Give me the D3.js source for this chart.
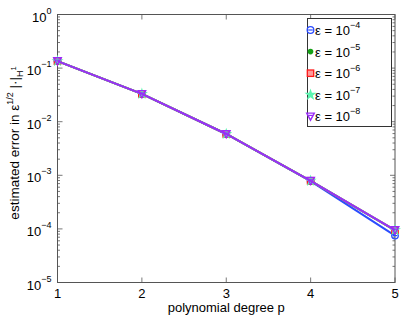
<!DOCTYPE html>
<html>
<head>
<meta charset="utf-8">
<script src="https://cdn.jsdelivr.net/npm/d3@7"></script>
<style>
  body { margin: 0; background: #fff; }
  text { font-family: "Liberation Sans", Arial, sans-serif; fill: #000; }
</style>
</head>
<body>
<div id="chart"></div>
<script>
// polynomial degrees on the x axis
var degrees = [1, 2, 3, 4, 5];
var yDecades = [0, -1, -2, -3, -4, -5];

// estimated errors, one array per epsilon
var err_e4 = [0.135, 0.0330, 0.0059, 0.00078, 0.000075];
var err_e5 = [0.135, 0.0330, 0.0059, 0.00079, 0.000094];
var err_e6 = [0.135, 0.0330, 0.0059, 0.00079, 0.000095];
var err_e7 = [0.135, 0.0330, 0.0059, 0.00079, 0.000095];
var err_e8 = [0.135, 0.0330, 0.0059, 0.00079, 0.000095];

var seriesNames = ["-4", "-5", "-6", "-7", "-8"];
var seriesColors = ["#2b4cff", "#16a016", "#ff1a1a", "#5cf5b0", "#9a2cf8"];
var seriesMarkers = ["circle", "dot", "square", "star", "triangle"];
var seriesData = [err_e4, err_e5, err_e6, err_e7, err_e8];

var W = 405, H = 316;
var margin = {top: 14.5, right: 10, bottom: 33.5, left: 57.5};
var width = W - margin.left - margin.right,
    height = H - margin.top - margin.bottom;

var svg = d3.select("#chart").append("svg")
    .attr("width", W).attr("height", H);
var g = svg.append("g")
    .attr("transform", "translate(" + margin.left + "," + margin.top + ")");

var x = d3.scaleLinear().domain([1, 5]).range([0, width]);
var y = d3.scaleLog().domain([1e-5, 1]).range([height, 0]);

// minor log ticks
var minor = [];
for (var e = -5; e < 0; e++) {
  for (var m = 2; m <= 9; m++) minor.push(m * Math.pow(10, e));
}

// box
g.append("rect")
  .attr("width", width).attr("height", height)
  .attr("fill", "none").attr("stroke", "#555").attr("stroke-width", 1);

// ticks on left and right
var tickG = g.append("g").attr("stroke", "#555").attr("stroke-width", 0.8);
yDecades.forEach(function(d) {
  var yy = y(Math.pow(10, d));
  tickG.append("line").attr("x1", 0).attr("x2", 5).attr("y1", yy).attr("y2", yy);
  tickG.append("line").attr("x1", width).attr("x2", width - 5).attr("y1", yy).attr("y2", yy);
});
minor.forEach(function(v) {
  var yy = y(v);
  tickG.append("line").attr("x1", 0).attr("x2", 2.5).attr("y1", yy).attr("y2", yy);
  tickG.append("line").attr("x1", width).attr("x2", width - 2.5).attr("y1", yy).attr("y2", yy);
});
degrees.forEach(function(d) {
  var xx = x(d);
  tickG.append("line").attr("x1", xx).attr("x2", xx).attr("y1", height).attr("y2", height - 5);
  tickG.append("line").attr("x1", xx).attr("x2", xx).attr("y1", 0).attr("y2", 5);
});

// y tick labels 10^k
yDecades.forEach(function(d) {
  var t = g.append("text")
    .attr("x", -6).attr("y", y(Math.pow(10, d)) + 7)
    .attr("text-anchor", "end")
    .style("font-size", "13px");
  t.append("tspan").text("10");
  t.append("tspan").attr("dy", -8).style("font-size", "9px").text(d === 0 ? "0" : "\u2212" + (-d));
});

// x tick labels
degrees.forEach(function(d) {
  g.append("text")
    .attr("x", x(d)).attr("y", height + 15)
    .attr("text-anchor", "middle")
    .style("font-size", "13px")
    .text(d);
});

// axis titles
g.append("text")
  .attr("x", width / 2).attr("y", height + 29)
  .attr("text-anchor", "middle")
  .style("font-size", "13px")
  .text("polynomial degree p");

var yl = svg.append("text")
  .attr("transform", "translate(19," + 143 + ") rotate(-90)")
  .attr("text-anchor", "middle")
  .style("font-size", "13.5px");
yl.append("tspan").text("estimated error in \u03b5");
yl.append("tspan").attr("dy", -6).style("font-size", "9px").text("1/2");
yl.append("tspan").attr("dy", 6).text(" |\u00b7|");
yl.append("tspan").attr("dy", 4).style("font-size", "9px").text("H");
yl.append("tspan").attr("dy", -7).style("font-size", "7.5px").text("1");

// markers
function drawMarker(sel, kind, color, cx, cy) {
  if (kind === "circle") {
    sel.append("circle").attr("cx", cx).attr("cy", cy).attr("r", 3.3)
      .attr("fill", "none").attr("stroke", color).attr("stroke-width", 1.3);
    sel.append("line").attr("x1", cx - 2.3).attr("x2", cx + 2.3).attr("y1", cy).attr("y2", cy)
      .attr("stroke", color).attr("stroke-width", 1.2);
  } else if (kind === "dot") {
    sel.append("circle").attr("cx", cx).attr("cy", cy).attr("r", 2.8).attr("fill", color);
  } else if (kind === "square") {
    sel.append("rect").attr("x", cx - 3.2).attr("y", cy - 3.2).attr("width", 6.4).attr("height", 6.4)
      .attr("fill", "#ff9a9a").attr("stroke", color).attr("stroke-width", 1.3);
  } else if (kind === "star") {
    sel.append("path").attr("transform", "translate(" + cx + "," + cy + ")")
      .attr("d", d3.symbol(d3.symbolStar, 45)()).attr("fill", color);
  } else {
    sel.append("path")
      .attr("d", "M" + (cx - 3.8) + "," + (cy - 3.3) + "L" + (cx + 3.8) + "," + (cy - 3.3) + "L" + cx + "," + (cy + 3.8) + "Z")
      .attr("fill", "none").attr("stroke", color).attr("stroke-width", 1.4);
    sel.append("line").attr("x1", cx - 2.3).attr("x2", cx + 2.3).attr("y1", cy - 1).attr("y2", cy - 1)
      .attr("stroke", color).attr("stroke-width", 1.2);
  }
}

var line = d3.line()
  .x(function(d, i) { return x(degrees[i]); })
  .y(function(d) { return y(d); });

seriesData.forEach(function(data, s) {
  g.append("path").datum(data)
    .attr("d", line)
    .attr("fill", "none")
    .attr("stroke", seriesColors[s])
    .attr("stroke-width", 2);
  var mg = g.append("g");
  data.forEach(function(v, i) {
    drawMarker(mg, seriesMarkers[s], seriesColors[s], x(degrees[i]), y(v));
  });
});

// legend
var lg = svg.append("g");
lg.append("rect")
  .attr("x", 307.5).attr("y", 18.5).attr("width", 84).attr("height", 108)
  .attr("fill", "#fff").attr("stroke", "#333").attr("stroke-width", 1);
seriesNames.forEach(function(name, s) {
  var cy = 30 + s * 21.6;
  drawMarker(lg, seriesMarkers[s], seriesColors[s], 310.5, cy);
  var t = lg.append("text").attr("x", 315).attr("y", cy + 5).style("font-size", "13px");
  t.append("tspan").text("\u03b5 = 10");
  t.append("tspan").attr("dy", -7).style("font-size", "9px").text("\u2212" + name.slice(1));
});
</script>
</body>
</html>
